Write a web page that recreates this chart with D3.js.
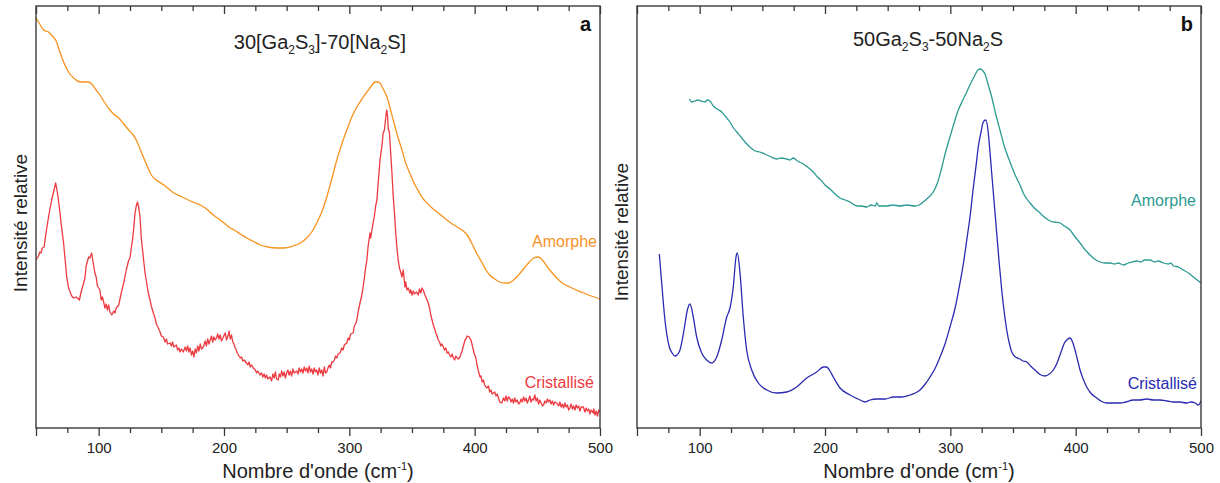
<!DOCTYPE html>
<html>
<head>
<meta charset="utf-8">
<script src="https://cdn.jsdelivr.net/npm/d3@7"></script>
<style>
html,body{margin:0;padding:0;background:#fff;}
svg{display:block;font-family:"Liberation Sans",Arial,sans-serif;}
</style>
</head>
<body>
<svg id="chart" width="1220" height="483"></svg>
<script>
// ---------- DATA (wavenumber cm-1, relative intensity a.u.) ----------
const xDomain = [50, 500];
const yDomain = [0, 422];
const majorTicks = [50, 100, 200, 300, 400, 500];
const minorTicks = [75, 125, 150, 175, 225, 250, 275, 325, 350, 375, 425, 450, 475];

// Panel a : 30[Ga2S3]-70[Na2S]
const a_amorphe = [[50,410],[53,404],[56,398],[60,396],[63,392],[66.5,386],[69,376],[72,366],[76,356],[80,350],[86,346],[92,346],[94.5,344],[98,338],[101,333],[105,325],[109,318],[112,314],[116,310],[120,304],[124,298],[127,294],[130,288],[133,279],[136,270],[139,261],[142,253],[146,248],[152,243],[156,239],[160,235],[165,232],[170,229],[175,226],[181,223],[186,219],[191.5,213],[197,208],[201,204],[205,200],[208,198],[213,194],[218,190],[223,187],[229,183],[235,181],[242,180],[248,180],[255,182],[261,185],[266,190],[270,196],[274,205],[278,216],[282,231],[286,249],[290,268],[294,284],[298,298],[302,311],[306,321],[310,329],[314,336],[317,341],[320.5,346],[322.5,346],[324.5,345],[327,339],[330,331],[332.5,320],[335,308],[338,294],[342,278],[345,265],[348.5,254],[352,244],[356,235],[359,229],[362,225],[366,220],[370,216],[375,211],[380,206],[386,201],[391,197],[394,193],[398,184],[401.5,175],[406,165],[409,158],[412,153],[416,149],[420,146],[424,145],[427,145],[431,148],[435,153],[439,159],[443,165],[447,170],[451,171],[454,168],[457,163],[460,158],[464,152],[468,147],[471,144],[476,141],[481,138],[487,135],[493,132],[500,129]];

const a_cristallise = [[50,168],[52,172],[53,176],[54,175],[55,180],[56.5,181],[58,195],[60,211],[61,218],[62.5,228],[64,236],[65.7,245],[67,236],[68.6,221],[70,205],[72,185],[73.5,165],[74.5,151],[76,140],[78.5,132],[80,130],[82,131],[84.6,128],[86,136],[88,145],[89,150],[90,162],[92,171],[93,170],[94.4,175],[95.5,166],[97,155],[98,151],[99,142],[101,138],[102,128],[103,131],[104,126],[105,120],[106,124],[107,118],[108,123],[109,116],[110.5,113],[112,117],[113,115],[114,120],[116,123],[118,135],[120,145],[122,158],[124,168],[125,170],[126,180],[127,188],[128,200],[129,215],[130,222],[131,226],[132,220],[133,211],[134,190],[135.6,171],[137,155],[139.6,135],[141,128],[142,122],[143.6,115],[145,110],[146,104],[147.6,100],[149,96],[150,92],[151.6,91],[153,86],[154,89],[155,84],[157,85],[158,82],[159,86],[160,81],[162,83],[163,78],[164,80],[165,76],[166,79],[167.5,76],[169,81],[170,77],[171,82],[172,76],[173,80],[174,73],[175,77],[176,71],[177,79],[178,75],[179,82],[180,77],[181,84],[182,79],[183.5,81],[185,87],[186,82],[187,89],[188,84],[189,88],[190,92],[191,86],[192,91],[193,88],[194,90],[195,94],[196,89],[197,93],[198,87],[199.5,91],[201,95],[202,88],[203.4,93],[204,97],[205,89],[206,93],[207,86],[208,84],[209,80],[210,77],[211,74],[212,72],[213,70],[214,71],[215,67],[216,68],[218,65],[219,63],[220,66],[221,61],[222,63],[223.4,60],[225,58],[226,55],[227,57],[228.7,53],[230,55],[231,51],[232,54],[233,50],[234,53],[235,49],[236.7,51],[238,47],[239,54],[240,50],[241,56],[242,49],[243.3,48],[244,54],[245,51],[246,57],[247,52],[248,56],[249,50],[250,55],[251,58],[252,53],[253,57],[254,52],[255,59],[256,55],[258,57],[259,54],[260,60],[261,56],[262,59],[263,55],[264,61],[265,57],[266,60],[267,55],[268,62],[269,56],[270,59],[271,54],[272,60],[273,56],[274,58],[275,53],[276,60],[277,55],[278,58],[279,52],[280,61],[281,55],[282,56],[283,60],[284,63],[285,60],[286,66],[287,66],[288,68],[289,72],[290,70],[291,74],[292.6,75],[294,80],[295,78],[296,83],[298,85],[299,90],[300,88],[301,94],[303,95],[304,102],[305,104],[306,108],[307,116],[308.5,125],[310,133],[311,141],[312,150],[313,160],[314,168],[315,182],[316.5,195],[317,190],[318,198],[319,205],[320,212],[321,222],[322,228],[323,245],[324.5,268],[326,282],[327,295],[328,298],[329,310],[329.8,318],[330.5,312],[331,300],[332,295],[333,275],[334,255],[335,232],[336.4,208],[337,195],[338,180],[339,168],[340,160],[341,156],[342,151],[343,158],[344.4,141],[345,146],[346,138],[347,140],[348.4,135],[349,138],[350,133],[351,137],[352,134],[353.7,136],[355,133],[356,139],[357,135],[358,140],[359,138],[360,134],[361,131],[362,128],[363,125],[364,120],[365,113],[366,108],[367,103],[368.4,98],[369,95],[370,92],[371,88],[372,86],[373,82],[374,84],[375,81],[376,78],[377,80],[378,75],[379,76],[380,73],[381,71],[382,74],[383,70],[384,68],[385,72],[386,70],[387,69],[388.3,71],[389,74],[390,77],[391,82],[392.3,88],[393,89],[394,92],[395.7,91],[397,88],[398,83],[399.5,75],[401,70],[402,62],[403,57],[404.3,51],[405,52],[406,46],[407,48],[408,43],[409.6,40],[411,42],[412,36],[413,38],[414,34],[415,35],[416,36],[417,32],[418,34],[419,30],[420,26],[421.6,25],[423,30],[424,27],[425,32],[426,27],[427,31],[428,30],[429,26],[430,29],[431,25],[432,30],[433,26],[434,28],[435,24],[436,25],[437,29],[438,26],[439,31],[440,27],[441,30],[442,25],[443,28],[444,32],[445,26],[446,29],[447,28],[448,33],[449,27],[450,30],[451,24],[452,28],[453,25],[454,22],[455,23],[456,27],[457,25],[458,29],[459,26],[460,28],[461,24],[462,27],[463,23],[464,26],[465.5,25],[467,22],[468,26],[469,21],[470,24],[471,20],[472,25],[473,21],[474,23],[475,18],[476,20],[477,24],[478,19],[479,22],[480,18],[481,23],[482,20],[483,22],[484,17],[485,21],[486.7,21],[488,16],[489,20],[490,17],[491,19],[492,14],[493,18],[494.7,15],[495,19],[496,13],[497,17],[498,12],[499,18],[500,16]];

// Panel b : 50Ga2S3-50Na2S
const b_amorphe = [[91.8,329],[93.6,326],[96,327],[98.9,328],[101,327],[104.3,326],[106,328],[108.2,327],[110.9,322],[114,319],[117.6,316],[121,311],[124.2,306],[127,300],[129.6,296],[133,291],[136.2,286],[140,281],[144.2,277],[148,276],[153.5,273],[157,271],[161.5,269],[165,270],[169.4,269],[172,268],[174.7,270],[178,267],[182.7,264],[186,261],[190.7,256],[194,251],[197.4,247],[200,243],[204,239],[208,234],[212,230],[216,228],[220,226],[225.3,222],[229,222],[233.3,221],[237,223],[240,222],[241.3,225],[243,222],[249.2,222],[254,223],[259.8,222],[265,223],[271.8,222],[275,223],[278.4,226],[282,230],[286.4,236],[290,246],[293.1,260],[296,275],[299.7,291],[303,305],[306.4,318],[310,328],[313.1,336],[316,344],[319.7,353],[322,358],[324.3,359],[326,357],[327.7,354],[330,344],[333,331],[336,315],[339.6,298],[343,282],[347.6,266],[351,255],[355.6,243],[359,233],[363.6,225],[367,220],[371.6,215],[375,211],[379.6,207],[383,206],[387.5,205],[391,202],[395.5,198],[399,192],[403.5,185],[407,179],[411.5,173],[415,169],[419.5,166],[423,165],[427.5,165],[431,164],[434,165],[438.1,163],[442,165],[445,166],[448.8,167],[452,166],[455,168],[459.4,168],[463,166],[466,167],[470,165],[474,164],[476,165],[478,162],[482,161],[486,158],[490,155],[494,151],[497,148],[500,145]];

const b_cristallise = [[67.8,174],[69.7,145],[72.3,108],[75.8,81],[78,75],[80.3,72],[82,73],[84.3,78],[87.5,98],[90.2,118],[92.3,124],[94.9,111],[97.6,91],[101.6,75],[105.6,68],[109.6,65],[113.6,71],[117.6,88],[121.6,111],[124.2,120],[126.8,141],[129,171],[130,175],[132.2,155],[134.8,111],[137.5,78],[141.5,58],[146.8,45],[153.5,38],[161.5,35],[169.4,36],[177.4,41],[185.4,50],[193.4,56],[198.7,61],[201.3,61],[204,57],[206.6,51],[212,40],[220,33],[228,28],[232,26],[236,28],[241.3,29],[248,29],[254.5,31],[261,31],[267.8,33],[272,35],[275.8,38],[280,44],[283.8,51],[288,60],[291.8,71],[296,85],[299.7,101],[304,121],[307.7,145],[310.5,165],[313.1,188],[316,214],[318.4,241],[320.5,262],[322.3,281],[324.5,296],[326.3,306],[328.2,308],[330.3,295],[331.5,278],[333,255],[335,225],[337,195],[339,165],[341,138],[343,116],[345,98],[347,85],[349,76],[352,71],[355.6,69],[358,67],[361,66],[364,62],[367.6,58],[371,54],[375.5,52],[379,54],[382.2,58],[385.5,66],[388.9,78],[391,85],[392.9,88],[395.5,90],[397.5,86],[399.5,78],[401.5,68],[403.5,58],[406,49],[408.8,41],[412,35],[416.8,30],[420,27],[424.8,25],[430,25],[435.4,25],[440,26],[446,28],[451,28],[456.7,29],[462,28],[467.3,28],[473,27],[478,26],[483,26],[488.6,25],[492,26],[495.3,25],[498,23],[500,27]];

// ---------- TEXT ----------
const xTitle = "Nombre d'onde (cm";
const yTitle = "Intensité relative";
const labelAmorphe = "Amorphe";
const labelCristallise = "Cristallisé";

const panels = [
  { left: 36, right: 600, letter: "a", letterX: 591, titleX: 320, titleY: 49, yTitleY: 223, yTitleX: 27,
    title: [["30[Ga",0],["2",1],["S",0],["3",1],["]-70[Na",0],["2",1],["S]",0]],
    series: [
      { data: a_amorphe, color: "#F8921E", curve: d3.curveMonotoneX, label: labelAmorphe, lx: 597, ly: 247 },
      { data: a_cristallise, color: "#EC3A40", curve: d3.curveLinear, label: labelCristallise, lx: 594, ly: 388 }
    ]},
  { left: 637, right: 1201, letter: "b", letterX: 1193, titleX: 928, titleY: 46, yTitleY: 232, yTitleX: 628,
    title: [["50Ga",0],["2",1],["S",0],["3",1],["-50Na",0],["2",1],["S",0]],
    series: [
      { data: b_amorphe, color: "#2B9A92", curve: d3.curveMonotoneX, label: labelAmorphe, lx: 1196, ly: 206 },
      { data: b_cristallise, color: "#2A2AB2", curve: d3.curveMonotoneX, label: labelCristallise, lx: 1197, ly: 389 }
    ]}
];

const plotTop = 6, plotBottom = 428;
const svg = d3.select("#chart");
const axisColor = "#3a3a3a";
const textColor = "#222";

panels.forEach(p => {
  const x = d3.scaleLinear().domain(xDomain).range([p.left, p.right]);
  const y = d3.scaleLinear().domain(yDomain).range([plotBottom, plotTop]);
  const g = svg.append("g");

  // curves
  p.series.forEach(s => {
    g.append("path")
      .datum(s.data)
      .attr("fill", "none")
      .attr("stroke", s.color)
      .attr("stroke-width", 1.3)
      .attr("stroke-linejoin", "round")
      .attr("d", d3.line().x(d => x(d[0])).y(d => y(d[1])).curve(s.curve));
    g.append("text")
      .attr("x", s.lx).attr("y", s.ly)
      .attr("text-anchor", "end")
      .attr("font-size", 16)
      .attr("fill", s.color)
      .text(s.label);
  });

  // bottom axis: ticks outward
  const bMinor = d3.axisBottom(x).tickValues(minorTicks).tickSize(5).tickFormat("");
  const bMajor = d3.axisBottom(x).tickValues(majorTicks).tickSize(8).tickPadding(6)
    .tickFormat(d => d % 100 === 0 ? d : "");
  // top axis: ticks inward (pointing down)
  const tMinor = d3.axisBottom(x).tickValues(minorTicks).tickSize(5).tickFormat("");
  const tMajor = d3.axisBottom(x).tickValues(majorTicks).tickSize(8).tickFormat("");

  [[bMinor, plotBottom], [bMajor, plotBottom], [tMinor, plotTop], [tMajor, plotTop]].forEach(([ax, yy]) => {
    const ag = g.append("g").attr("transform", `translate(0,${yy})`).call(ax);
    ag.select(".domain").remove();
    ag.selectAll(".tick line").attr("stroke", axisColor).attr("stroke-width", 1.3);
    ag.selectAll(".tick text").attr("font-size", 15).attr("fill", textColor)
      .attr("font-family", "Liberation Sans, Arial, sans-serif");
  });

  // frame
  g.append("rect")
    .attr("x", p.left).attr("y", plotTop)
    .attr("width", p.right - p.left).attr("height", plotBottom - plotTop)
    .attr("fill", "none").attr("stroke", axisColor).attr("stroke-width", 1.4);

  // x title
  const xt = g.append("text")
    .attr("x", (p.left + p.right) / 2).attr("y", 478)
    .attr("text-anchor", "middle").attr("font-size", 20).attr("fill", textColor);
  xt.append("tspan").text(xTitle);
  xt.append("tspan").attr("dy", -8).attr("font-size", 11).text("-1");
  xt.append("tspan").attr("dy", 8).text(")");

  // y title
  g.append("text")
    .attr("transform", `translate(${p.yTitleX},${p.yTitleY}) rotate(-90)`)
    .attr("text-anchor", "middle").attr("font-size", 19).attr("fill", textColor)
    .text(yTitle);

  // panel title with subscripts
  const tt = g.append("text")
    .attr("x", p.titleX).attr("y", p.titleY)
    .attr("text-anchor", "middle").attr("font-size", 20).attr("fill", textColor);
  let sub = 0;
  p.title.forEach(([txt, isSub]) => {
    const dy = isSub && !sub ? 5 : (!isSub && sub ? -5 : 0);
    tt.append("tspan").attr("dy", dy).attr("font-size", isSub ? 12 : 20).text(txt);
    sub = isSub;
  });

  // panel letter
  g.append("text")
    .attr("x", p.letterX).attr("y", 31)
    .attr("text-anchor", "end").attr("font-size", 20).attr("font-weight", "bold")
    .attr("fill", "#111").text(p.letter);
});
</script>
</body>
</html>
